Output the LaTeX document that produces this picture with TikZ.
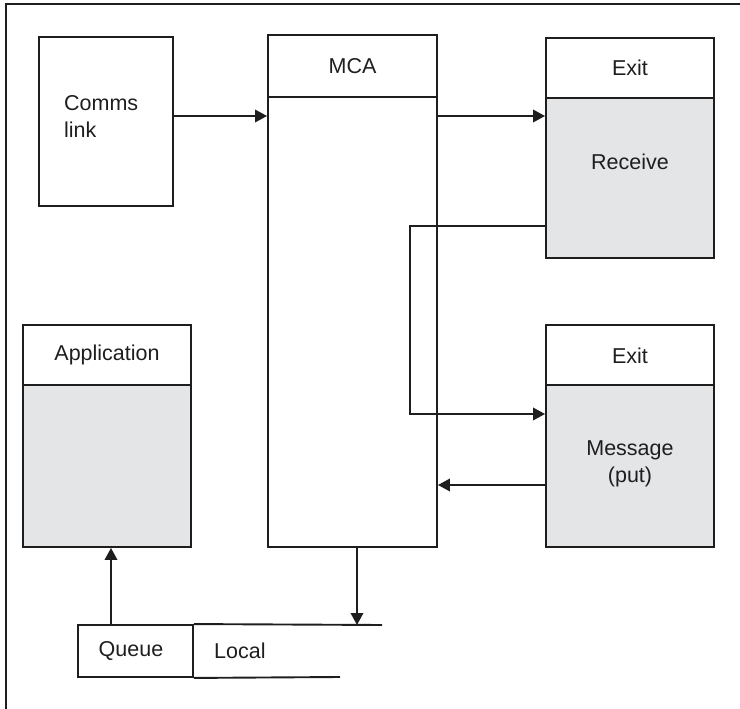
\documentclass[tikz,border=0pt]{standalone}
\usepackage{fontspec}
\setmainfont{Liberation Sans}
\usetikzlibrary{arrows.meta}
\definecolor{bodygray}{HTML}{E4E5E7}
\definecolor{ink}{HTML}{1E1E1E}
\begin{document}
\begin{tikzpicture}[x=1pt,y=-1pt,
  box/.style={draw=ink, line width=1.9pt, inner sep=0pt, rectangle},
  conn/.style={draw=ink, line width=1.9pt},
  arr/.style={conn, -{Triangle[length=12pt,width=12.5pt]}},
  lbl/.style={font=\fontsize{21.5}{27}\selectfont, align=center, inner sep=0pt, text=ink},
]
\useasboundingbox (0,0) rectangle (740,709);
% frame (top and left edges)
\draw[ink, line width=2.6pt] (6,709) -- (6,4) -- (740,4);

% shaded bodies
\fill[bodygray] (546,98) rectangle (714,258);
\fill[bodygray] (546,385) rectangle (714,547);
\fill[bodygray] (23,385) rectangle (191,547);

% boxes
\node[box, minimum width=134pt, minimum height=169pt] (comms) at (106,121.5) {};
\node[box, minimum width=169pt, minimum height=512pt] (mca) at (352.5,291) {};
\node[box, minimum width=168pt, minimum height=220pt] (exitA) at (630,148) {};
\node[box, minimum width=168pt, minimum height=222pt] (exitB) at (630,436) {};
\node[box, minimum width=168pt, minimum height=222pt] (app) at (107,436) {};
\node[box, minimum width=115pt, minimum height=52pt] (queue) at (135.5,651) {};

% header dividers
\draw[conn] (mca.west |- 0,97) -- (mca.east |- 0,97);
\draw[conn] (exitA.west |- 0,98) -- (exitA.east |- 0,98);
\draw[conn] (exitB.west |- 0,385) -- (exitB.east |- 0,385);
\draw[conn] (app.west |- 0,385) -- (app.east |- 0,385);

% queue lines
\coordinate (qtopend) at (382,625);
\coordinate (qbotend) at (340,677);
\draw[conn] (queue.north east) -- (qtopend);
\draw[conn] (queue.south east) -- (qbotend);

% labels
\node[lbl, align=left, anchor=west] (commsT) at (64,116) {Comms\\link};
\node[lbl] (mcaT) at (352.5,66) {MCA};
\node[lbl] (exitAT) at (630,68) {Exit};
\node[lbl] (recvT) at (630,162) {Receive};
\node[lbl] (exitBT) at (630,356) {Exit};
\node[lbl] (msgT) at (630,464) {Message\\(put)};
\node[lbl] (appT) at (107,355) {Application};
\node[lbl] (queueT) at (131,651) {Queue};
\node[lbl, anchor=west] (localT) at (214,651) {Local};

% connectors
\draw[arr] (comms.east |- 0,116) -- (mca.west |- 0,116);
\draw[arr] (mca.east |- 0,116) -- (exitA.west |- 0,116);
\coordinate (loopx) at (410,0);
\draw[arr] (exitA.west |- 0,226) -- (loopx |- 0,226) -- (loopx |- 0,414) -- (exitB.west |- 0,414);
\draw[arr] (exitB.west |- 0,485) -- (mca.east |- 0,485);
\coordinate (qin) at (357,625);
\draw[arr] (mca.south -| qin) -- (qin);
\coordinate (qout) at (111,625);
\draw[arr] (qout) -- (app.south -| qout);
\end{tikzpicture}
\end{document}
